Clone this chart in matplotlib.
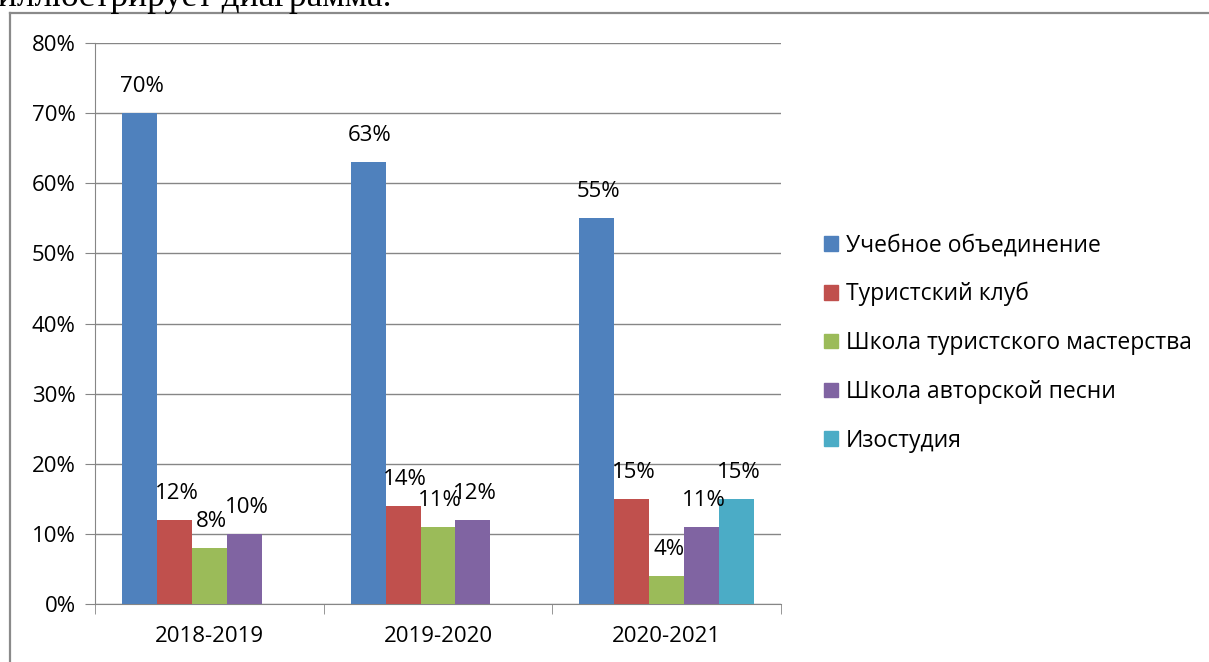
import numpy as np
import matplotlib.pyplot as plt
from matplotlib.lines import Line2D
from matplotlib.patches import Patch

plt.rcParams['font.family'] = ['Open Sans', 'DejaVu Sans']

years = ['2018-2019', '2019-2020', '2020-2021']
series = ['Учебное объединение', 'Туристский клуб', 'Школа туристского мастерства',
          'Школа авторской песни', 'Изостудия']
uchebnoe = [70, 63, 55]
turklub = [12, 14, 15]
shkola_tur = [8, 11, 4]
shkola_pesni = [10, 12, 11]
izostudia = [np.nan, np.nan, 15]
values = [uchebnoe, turklub, shkola_tur, shkola_pesni, izostudia]
colors = ['#4F81BD', '#C0504D', '#9BBB59', '#8064A2', '#4BACC6']

fig = plt.figure(figsize=(12.09, 6.62), dpi=100)
ax = fig.add_axes([95 / 1209, 1 - 604 / 662, (781 - 95) / 1209, (604 - 43) / 662])

x = np.arange(len(years))
w = 0.153
for i, (vals, c) in enumerate(zip(values, colors)):
    pos = x + (i - 2) * w
    ax.bar(pos, vals, width=w, color=c, zorder=3)
    for p, v in zip(pos, vals):
        if not np.isnan(v):
            ax.annotate('%d%%' % v, (p, v), xytext=(1.5, 19), textcoords='offset points',
                        ha='center', va='center', fontsize=16, zorder=4)

ax.set_xlim(-0.5, 2.5)
ax.set_ylim(0, 80)
ax.set_yticks(range(0, 81, 10))
ax.set_yticklabels(['%d%%' % t for t in range(0, 81, 10)], fontsize=16)
ax.set_xticks(x)
ax.set_xticklabels(years, fontsize=16)
ax.set_xticks([-0.5, 0.5, 1.5, 2.5], minor=True)
ax.tick_params(axis='x', which='major', length=0, pad=16)
ax.tick_params(axis='x', which='minor', length=7, color='#868686')
ax.tick_params(axis='y', length=7, color='#868686', pad=7)
ax.grid(axis='y', color='#868686', lw=1, zorder=0)
for s in ['top', 'right']:
    ax.spines[s].set_visible(False)
for s in ['left', 'bottom']:
    ax.spines[s].set_color('#868686')

handles = [Patch(color=c) for c in colors]
fig.legend(handles, series, loc='center left', bbox_to_anchor=(824 / 1209, 1 - 343 / 662),
           frameon=False, fontsize=16.5, handlelength=0.6, handleheight=0.6,
           handletextpad=0.35, labelspacing=1.08, borderpad=0, borderaxespad=0)

# рамка диаграммы и обрезанная строка текста документа
fig.add_artist(Line2D([9.5 / 1209, 9.5 / 1209], [0, 1 - 13 / 662], color='#8a8a8a', lw=1.6))
fig.add_artist(Line2D([9.5 / 1209, 1], [1 - 13 / 662, 1 - 13 / 662], color='#8a8a8a', lw=1.6))
fig.text(-2 / 1209, 1 - 6 / 662, 'иллюстрирует диаграмма.', family='Liberation Serif',
         fontsize=25.5, ha='left', va='baseline')

fig.savefig('out.png', dpi=100)
